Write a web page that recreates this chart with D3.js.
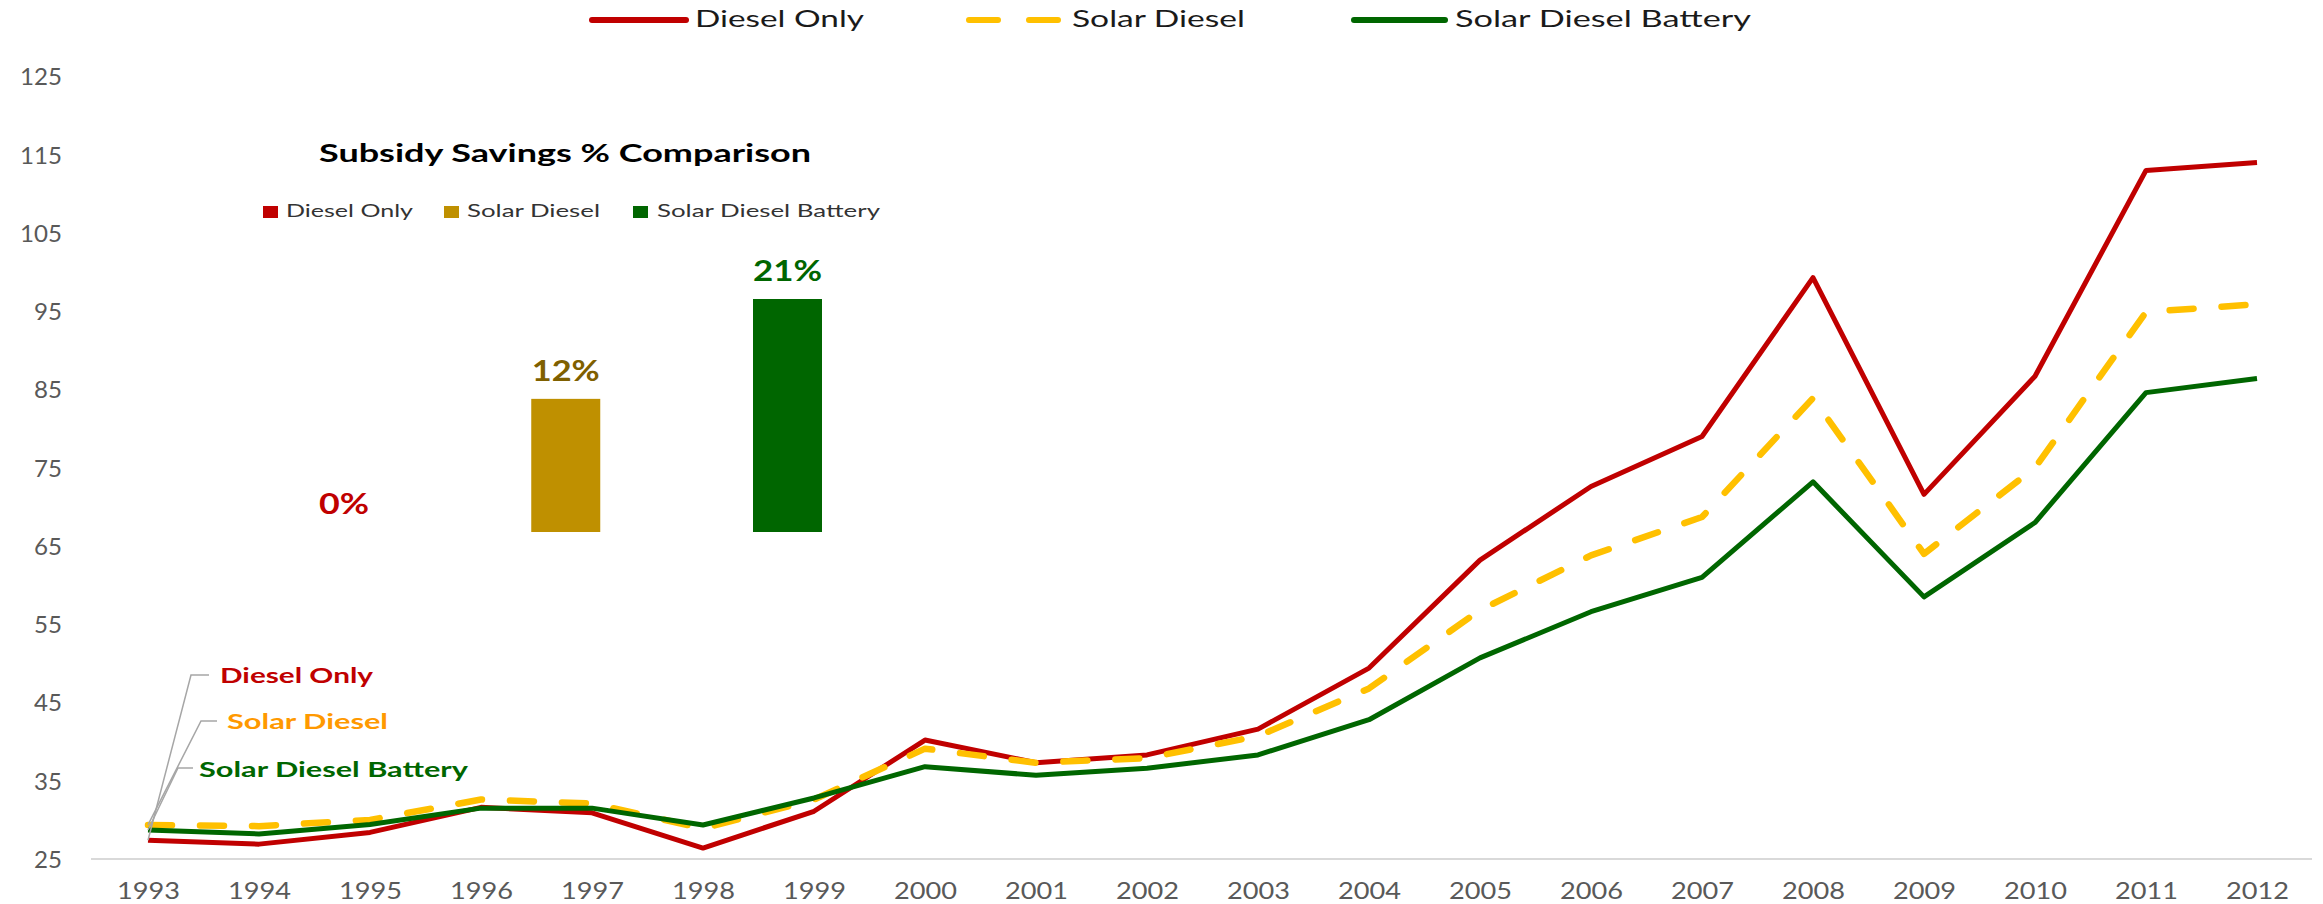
<!DOCTYPE html>
<html><head><meta charset="utf-8">
<script src="https://cdn.jsdelivr.net/npm/d3@7"></script>
<style>body{margin:0;background:#fff} svg{display:block} text{font-family:Lato,"Open Sans",sans-serif}</style>
</head><body>
<svg id="c" width="2323" height="904"></svg>
<script>
const years = [1993,1994,1995,1996,1997,1998,1999,2000,2001,2002,2003,2004,2005,2006,2007,2008,2009,2010,2011,2012];
const dieselOnly = [27.4,26.9,28.4,31.6,30.9,26.4,31.1,40.2,37.3,38.3,41.6,49.4,63.2,72.6,79.0,99.3,71.6,86.7,113.0,114.0];
const solarDiesel = [29.35,29.2,30.0,32.6,32.1,28.9,32.6,39.1,37.3,37.9,40.7,46.8,56.8,63.8,68.7,83.9,64.0,75.0,94.9,95.9];
const solarDieselBattery = [28.7,28.2,29.4,31.5,31.5,29.35,32.8,36.8,35.7,36.6,38.3,42.8,50.7,56.6,61.0,73.2,58.5,68.0,84.6,86.4];
const yTicks = [25,35,45,55,65,75,85,95,105,115,125];
const seriesNames = ["Diesel Only","Solar Diesel","Solar Diesel Battery"];
const savingsPct = [0,12,21];

const svg = d3.select("#c");
const x = d3.scalePoint().domain(years).range([148,2257]);
const y = d3.scaleLinear().domain([25,125]).range([859,76.5]);

// baseline axis line
svg.append("line").attr("x1",91).attr("x2",2312).attr("y1",y(25)).attr("y2",y(25))
  .attr("stroke","#d9d9d9").attr("stroke-width",2);

// y axis
const yAxis = svg.append("g").attr("transform","translate(62,0)")
  .call(d3.axisLeft(y).tickValues(yTicks).tickSize(0).tickPadding(0));
yAxis.select(".domain").remove();
yAxis.selectAll("text").attr("font-family","Lato").attr("font-size",23).attr("fill","#595959")
  .attr("x",0).attr("dy","0.36em")
  .each(function(){const t=d3.select(this); t.attr("textLength",t.text().length*14).attr("lengthAdjust","spacingAndGlyphs");});

// x axis
const xAxis = svg.append("g").attr("transform",`translate(0,${y(25)})`)
  .call(d3.axisBottom(x).tickSize(0).tickPadding(0).tickFormat(d3.format("d")));
xAxis.select(".domain").remove();
xAxis.selectAll("text").attr("font-family","Lato").attr("font-size",23).attr("fill","#595959")
  .attr("y",40).attr("dy",0).attr("textLength",63).attr("lengthAdjust","spacingAndGlyphs");

// lines
const series = [
  {name:seriesNames[0], values:dieselOnly, color:"#C00000", dash:null, w:5},
  {name:seriesNames[1], values:solarDiesel, color:"#FFC000", dash:"24,28", w:6.5},
  {name:seriesNames[2], values:solarDieselBattery, color:"#006600", dash:null, w:5}
];
const line = d3.line().x((d,i)=>x(years[i])).y(d=>y(d));
series.forEach(s=>{
  svg.append("path").attr("d",line(s.values)).attr("fill","none").attr("stroke",s.color)
    .attr("stroke-width",s.w).attr("stroke-linejoin","round")
    .attr("stroke-linecap", s.dash ? "round" : "butt")
    .attr("stroke-dasharray", s.dash);
});

// top legend
const legPos = [{x1:592,x2:686,tx:695,tw:169},{x1:969,x2:1058,tx:1072,tw:173},{x1:1354,x2:1445,tx:1455,tw:296}];
series.forEach((s,i)=>{
  const p = legPos[i];
  svg.append("line").attr("x1",p.x1).attr("x2",p.x2).attr("y1",20).attr("y2",20)
    .attr("stroke",s.color).attr("stroke-width",6).attr("stroke-linecap","round")
    .attr("stroke-dasharray", s.dash ? "29,31" : null);
  svg.append("text").attr("x",p.tx).attr("y",27).attr("font-size",23.5).attr("fill","#1a1a1a")
    .attr("textLength",p.tw).attr("lengthAdjust","spacingAndGlyphs").text(s.name);
});

// inset chart
const ix = d3.scalePoint().domain(seriesNames).range([344,787.5]);
const iy = d3.scaleLinear().domain([0,21]).range([532,299]);
const barColors = ["#C00000","#BF9000","#006600"];
const labelColors = ["#C00000","#7F6000","#006600"];
const labelWidths = [50,68,69];
seriesNames.forEach((n,i)=>{
  const v = savingsPct[i];
  if (v > 0) {
    svg.append("rect").attr("x",ix(n)-34.5).attr("y",iy(v)).attr("width",69)
      .attr("height",iy(0)-iy(v)).attr("fill",barColors[i]);
  }
  svg.append("text").attr("x",ix(n)-labelWidths[i]/2).attr("y",iy(v)-18)
    .attr("font-size",28).attr("font-weight","bold").attr("fill",labelColors[i])
    .attr("textLength",labelWidths[i]).attr("lengthAdjust","spacingAndGlyphs")
    .text(d3.format(".0%")(v/100));
});
svg.append("text").attr("x",319).attr("y",162).attr("font-size",24).attr("font-weight","bold")
  .attr("fill","#000").attr("textLength",492).attr("lengthAdjust","spacingAndGlyphs")
  .text("Subsidy Savings % Comparison");
const insetLeg = [{sx:263,tx:286,tw:127},{sx:444,tx:467,tw:133},{sx:633,tx:657,tw:223}];
seriesNames.forEach((n,i)=>{
  const p = insetLeg[i];
  svg.append("rect").attr("x",p.sx).attr("y",206).attr("width",15).attr("height",12).attr("fill",barColors[i]);
  svg.append("text").attr("x",p.tx).attr("y",217).attr("font-size",18).attr("fill","#333")
    .attr("textLength",p.tw).attr("lengthAdjust","spacingAndGlyphs").text(n);
});

// annotations with leader lines
const annot = [
  {tx:220,ty:683,tw:153,color:"#C00000",bend:[191,675],end:209},
  {tx:227,ty:729,tw:161,color:"#FF9900",bend:[201,721],end:217},
  {tx:199,ty:777,tw:269,color:"#006600",bend:[178,768],end:193}
];
series.forEach((s,i)=>{
  const a = annot[i];
  const px = x(years[0]), py = y(s.values[0]);
  svg.append("path").attr("d",`M${px},${py}L${a.bend[0]},${a.bend[1]}L${a.end},${a.bend[1]}`)
    .attr("fill","none").attr("stroke","#a6a6a6").attr("stroke-width",1.5);
  svg.append("text").attr("x",a.tx).attr("y",a.ty).attr("font-size",21).attr("font-weight","bold")
    .attr("fill",a.color).attr("textLength",a.tw).attr("lengthAdjust","spacingAndGlyphs").text(s.name);
});
</script>
</body></html>
